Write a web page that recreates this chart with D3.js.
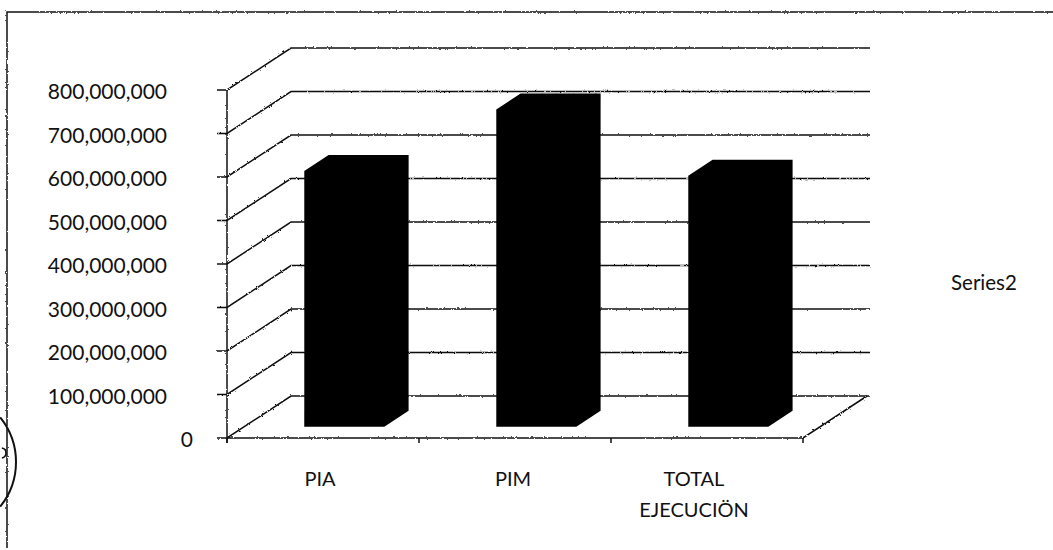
<!DOCTYPE html>
<html>
<head>
<meta charset="utf-8">
<script src="https://cdn.jsdelivr.net/npm/d3@7"></script>
<style>
  html, body { margin: 0; padding: 0; background: #fff; }
  svg { display: block; }
  text { font-family: Lato, "Open Sans", sans-serif; fill: #111; }
</style>
</head>
<body>
<div id="chart"></div>
<script>
const categories = ["PIA", "PIM", "TOTAL EJECUCIÖN"];
const seriesValues = [588000000, 729000000, 577000000];
const tickValues = [0, 100000000, 200000000, 300000000, 400000000, 500000000, 600000000, 700000000, 800000000];
const seriesName = "Series2";

const width = 1053, height = 550;

// front plane of the 3d box, the back wall is this moved by depthX / depthY
const plotLeft = 227, plotRight = 803, plotBottom = 438, plotTop = 90;
const depthX = 64, depthY = 42;
const nearDepth = 0.27, farDepth = 0.65;
const barWidth = 80, barInset = 60;

const svg = d3.select("#chart").append("svg")
  .attr("width", width)
  .attr("height", height);

// rough edge so the lines look like the scanned page
const defs = svg.append("defs");
const rough = defs.append("filter").attr("id", "rough")
  .attr("filterUnits", "userSpaceOnUse")
  .attr("x", 0).attr("y", 0).attr("width", width).attr("height", height);
rough.append("feTurbulence")
  .attr("type", "fractalNoise")
  .attr("baseFrequency", 0.45)
  .attr("numOctaves", 2)
  .attr("seed", 4)
  .attr("result", "noise");
rough.append("feDisplacementMap")
  .attr("in", "SourceGraphic")
  .attr("in2", "noise")
  .attr("scale", 2.4);

const xAxisScale = d3.scaleBand().domain(categories).range([plotLeft, plotRight]);
const yScale = d3.scaleLinear().domain([0, 800000000]).range([plotBottom, plotTop]);

// screen position of a value at some depth into the box (0 = front, 1 = back)
const px = (x, t) => x + t * depthX;
const py = (v, t) => yScale(v) - t * depthY;

const grid = svg.append("g").attr("filter", "url(#rough)")
  .attr("fill", "none")
  .attr("stroke", "#111")
  .attr("stroke-width", 1.5);

// page frame
grid.append("path").attr("d", `M1053,12 H7 V548`);

// back wall lines and the slanted side wall lines
tickValues.forEach(v => {
  grid.append("path")
    .attr("d", d3.line()([[plotLeft - 10, yScale(v)], [plotLeft, yScale(v)], [px(plotLeft, 1), py(v, 1)], [px(plotRight, 1) + 3, py(v, 1)]]));
});

// floor and axes
grid.append("path").attr("d", d3.line()([[plotLeft, yScale(0)], [plotRight, yScale(0)], [px(plotRight, 1), py(0, 1)]]));
grid.append("path").attr("d", d3.line()([[plotLeft, yScale(800000000)], [plotLeft, yScale(0) + 5]]));
d3.range(categories.length + 1).forEach(i => {
  let x = plotLeft + i * xAxisScale.step();
  grid.append("path").attr("d", d3.line()([[x, yScale(0)], [x, yScale(0) + 5]]));
});

// stamp edge on the left of the page
const stamp = d3.path();
stamp.arc(-55, 462, 71, -0.68, 0.68);
svg.append("path").attr("d", stamp.toString())
  .attr("fill", "none").attr("stroke", "#111").attr("stroke-width", 2);
const stampMark = d3.path();
stampMark.arc(1, 453, 5, -1.4, 1.4);
svg.append("path").attr("d", stampMark.toString())
  .attr("fill", "none").attr("stroke", "#111").attr("stroke-width", 1.6);

// bars are solid black, so the three faces read as one shape
const barPath = (cat, v) => {
  let x0 = xAxisScale(cat) + barInset;
  let x1 = x0 + barWidth;
  return d3.line()([
    [px(x0, nearDepth), py(0, nearDepth)],
    [px(x0, nearDepth), py(v, nearDepth)],
    [px(x0, farDepth), py(v, farDepth)],
    [px(x1, farDepth), py(v, farDepth)],
    [px(x1, farDepth), py(0, farDepth)],
    [px(x1, nearDepth), py(0, nearDepth)]
  ]) + "Z";
};

svg.append("g").selectAll("path")
  .data(categories)
  .join("path")
  .attr("d", (d, i) => barPath(d, seriesValues[i]))
  .attr("fill", "#000");

// value labels, the 0 sits closer to the axis than the others
svg.append("g").selectAll("text")
  .data(tickValues)
  .join("text")
  .attr("x", d => d === 0 ? 193 : 167)
  .attr("y", d => yScale(d) + 9)
  .attr("text-anchor", "end")
  .attr("font-size", 21)
  .text(d => d3.format(",")(d));

// category labels, long ones wrap on two lines
const labelShift = [-3, -2, -13];
categories.forEach((cat, i) => {
  let words = cat.split(" ");
  let cx = xAxisScale(cat) + xAxisScale.bandwidth() / 2 + labelShift[i];
  words.forEach((w, j) => {
    svg.append("text")
      .attr("x", cx)
      .attr("y", 486 + j * 31)
      .attr("text-anchor", "middle")
      .attr("font-size", 20)
      .text(w);
  });
});

svg.append("text")
  .attr("x", 951)
  .attr("y", 290)
  .attr("font-size", 20.5)
  .text(seriesName);
</script>
</body>
</html>
